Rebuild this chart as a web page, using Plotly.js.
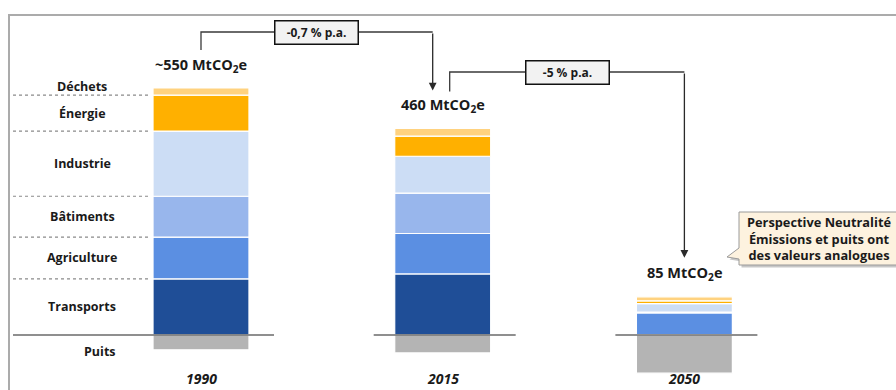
<!DOCTYPE html>
<html><head><meta charset="utf-8">
<script src="https://cdn.plot.ly/plotly-3.0.1.min.js"></script>
<style>html,body{margin:0;padding:0;background:#fff;overflow:hidden}#chart{width:896px;height:390px}</style>
</head><body><div id="chart"></div>
<script>
// ---- data ----
const years = ['1990', '2015', '2050'];
const totalLabels = ['~550 MtCO<sub>2</sub>e', '460 MtCO<sub>2</sub>e', '85 MtCO<sub>2</sub>e'];
const sectors = ['Transports', 'Agriculture', 'Bâtiments', 'Industrie', 'Énergie', 'Déchets'];
const transports  = [125, 136, 1];
const agriculture = [93, 90, 48];
const batiments   = [91, 90, 2];
const industrie   = [145, 82, 19];
const energie     = [80, 45, 6];
const dechets     = [16, 17, 9];
const puits       = [-33, -40, -85];
const sinkLabel = 'Puits';
const rates = ['-0,7 % p.a.', '-5 % p.a.'];
const calloutLines = ['Perspective Neutralité', 'Émissions et puits ont', 'des valeurs analogues'];

// ---- styling ----
const sectorColors = ['#1F4E97', '#5B8FE2', '#98B6EC', '#CCDDF5', '#FFB000', '#FFD27F'];
const sinkColor = '#B4B4B4';
const FONT = '"Open Sans", Lato, sans-serif';
const TXT = '#1a1a1a';
const W = 896, H = 390;
const xRange = [-0.8316, 2.8755];
const yRange = [-122.5, 746];

const series = [transports, agriculture, batiments, industrie, energie, dechets];
const xs = years.map((_, i) => i);
const totals = xs.map(i => series.reduce((s, a) => s + a[i], 0));

// data -> pixel, pixel -> paper
const px = x => (x - xRange[0]) / (xRange[1] - xRange[0]) * W;
const py = y => (yRange[1] - y) / (yRange[1] - yRange[0]) * H;
const PX = p => p / W;
const PY = p => 1 - p / H;

const traces = series.map((vals, k) => ({
  type: 'bar', x: xs, y: vals, name: sectors[k],
  marker: {color: sectorColors[k], line: {color: '#ffffff', width: 1.2}},
  hoverinfo: 'skip'
}));
traces.push({
  type: 'bar', x: xs, y: puits, name: sinkLabel,
  marker: {color: sinkColor, line: {color: '#ffffff', width: 1.2}},
  hoverinfo: 'skip'
});

const shapes = [];
const annotations = [];

// outer frame
shapes.push({type: 'path', xref: 'paper', yref: 'paper',
  path: `M ${PX(9)},${PY(400)} L ${PX(9)},${PY(15)} L ${PX(910)},${PY(15)}`,
  line: {color: '#ababab', width: 2}});

// dashed separators at 1990 boundaries
let cum = 0;
const bounds = [];
for (let k = 0; k < series.length; k++) {
  const lo = cum; cum += series[k][0];
  bounds.push([lo, cum]);
}
for (let k = 0; k < series.length - 1; k++) {
  const yb = PY(py(bounds[k][1]));
  shapes.push({type: 'line', xref: 'paper', yref: 'paper',
    x0: PX(13), x1: PX(150), y0: yb, y1: yb,
    line: {color: '#8a8a8a', width: 1.2, dash: '3px,3px'}});
}

// baselines
xs.forEach(i => {
  const left = i === 0 ? 13 : px(i) - 69;
  shapes.push({type: 'line', xref: 'paper', yref: 'paper', layer: 'above',
    x0: PX(left), x1: PX(px(i) + 73), y0: PY(py(0)), y1: PY(py(0)),
    line: {color: '#6a6a6a', width: 1.6}});
});

// left sector labels
sectors.forEach((s, k) => {
  const isTop = k === sectors.length - 1;
  annotations.push({xref: 'paper', yref: 'y', x: PX(82), xanchor: 'center',
    y: isTop ? bounds[k][0] : (bounds[k][0] + bounds[k][1]) / 2, yshift: isTop ? 9 : 0,
    yanchor: 'middle', text: '<b>' + s + '</b>', showarrow: false,
    font: {family: FONT, size: 12.5, color: TXT}});
});
annotations.push({xref: 'paper', yref: 'y', x: PX(82), y: 0, yshift: -17, yanchor: 'middle',
  text: '<b>' + sinkLabel + '</b>', showarrow: false, font: {family: FONT, size: 12.5, color: TXT}});

// total labels and year labels
xs.forEach(i => {
  annotations.push({x: i, y: totals[i], yshift: 23, yanchor: 'middle', xanchor: 'center',
    text: '<b>' + totalLabels[i] + '</b>', showarrow: false,
    font: {family: FONT, size: 14.5, color: TXT}});
  annotations.push({x: i, xref: 'x', yref: 'paper', y: PY(389), yanchor: 'bottom',
    text: '<b><i>' + years[i] + '</i></b>', showarrow: false, borderpad: 0,
    font: {family: FONT, size: 14, color: TXT}});
});

// connectors
const conns = [
  {sx: px(0), sy: py(totals[0]) - 38, hy: 32, ex: px(1) - 10, ty: py(totals[1]) - 38},
  {sx: px(1) + 7, sy: py(totals[1]) - 37, hy: 72, ex: px(2), ty: py(totals[2]) - 39}
];
conns.forEach((c, j) => {
  shapes.push({type: 'path', xref: 'paper', yref: 'paper',
    path: `M ${PX(c.sx)},${PY(c.sy)} L ${PX(c.sx)},${PY(c.hy)} L ${PX(c.ex)},${PY(c.hy)}`,
    line: {color: '#3a3a3a', width: 1.3}});
  annotations.push({xref: 'paper', yref: 'paper', x: PX(c.ex), y: PY(c.ty),
    ax: 0, ay: c.hy - c.ty, text: '', showarrow: true, arrowhead: 2, arrowsize: 1.2,
    arrowwidth: 1.3, arrowcolor: '#2a2a2a', standoff: 0});
  annotations.push({xref: 'paper', yref: 'paper', x: PX((c.sx + c.ex) / 2), y: PY(c.hy),
    xanchor: 'center', yanchor: 'middle', text: '<b>' + rates[j] + '</b>', showarrow: false,
    width: 76, height: 16, borderpad: 3, bgcolor: '#f2f2f2', bordercolor: '#111', borderwidth: 1.5,
    font: {family: FONT, size: 12, color: TXT}});
});

// callout
const cPath = (dx, dy) => {
  const P = (x, y) => `${PX(x + dx)},${PY(y + dy)}`;
  return `M ${P(739, 212)} L ${P(910, 212)} L ${P(910, 265)} L ${P(739, 265)} L ${P(739, 259)} L ${P(727, 257)} L ${P(739, 248)} Z`;
};
shapes.push({type: 'path', xref: 'paper', yref: 'paper', path: cPath(2.5, 2.5),
  fillcolor: 'rgba(0,0,0,0.22)', line: {width: 0}});
shapes.push({type: 'path', xref: 'paper', yref: 'paper', path: cPath(0, 0),
  fillcolor: '#FDF2DF', line: {color: '#9a9a9a', width: 1}});
annotations.push({xref: 'paper', yref: 'paper', x: PX(819), y: PY(238.5), xanchor: 'center', yanchor: 'middle',
  align: 'center', text: '<b>' + calloutLines.join('<br>') + '</b>', showarrow: false,
  font: {family: FONT, size: 12.8, color: TXT}});

const layout = {
  width: W, height: H, margin: {l: 0, r: 0, t: 0, b: 0},
  paper_bgcolor: '#ffffff', plot_bgcolor: '#ffffff',
  barmode: 'relative', bargap: 0.603, showlegend: false,
  xaxis: {range: xRange, visible: false, fixedrange: true},
  yaxis: {range: yRange, visible: false, fixedrange: true},
  shapes, annotations
};
Plotly.newPlot('chart', traces, layout, {staticPlot: true, displayModeBar: false});
</script></body></html>
